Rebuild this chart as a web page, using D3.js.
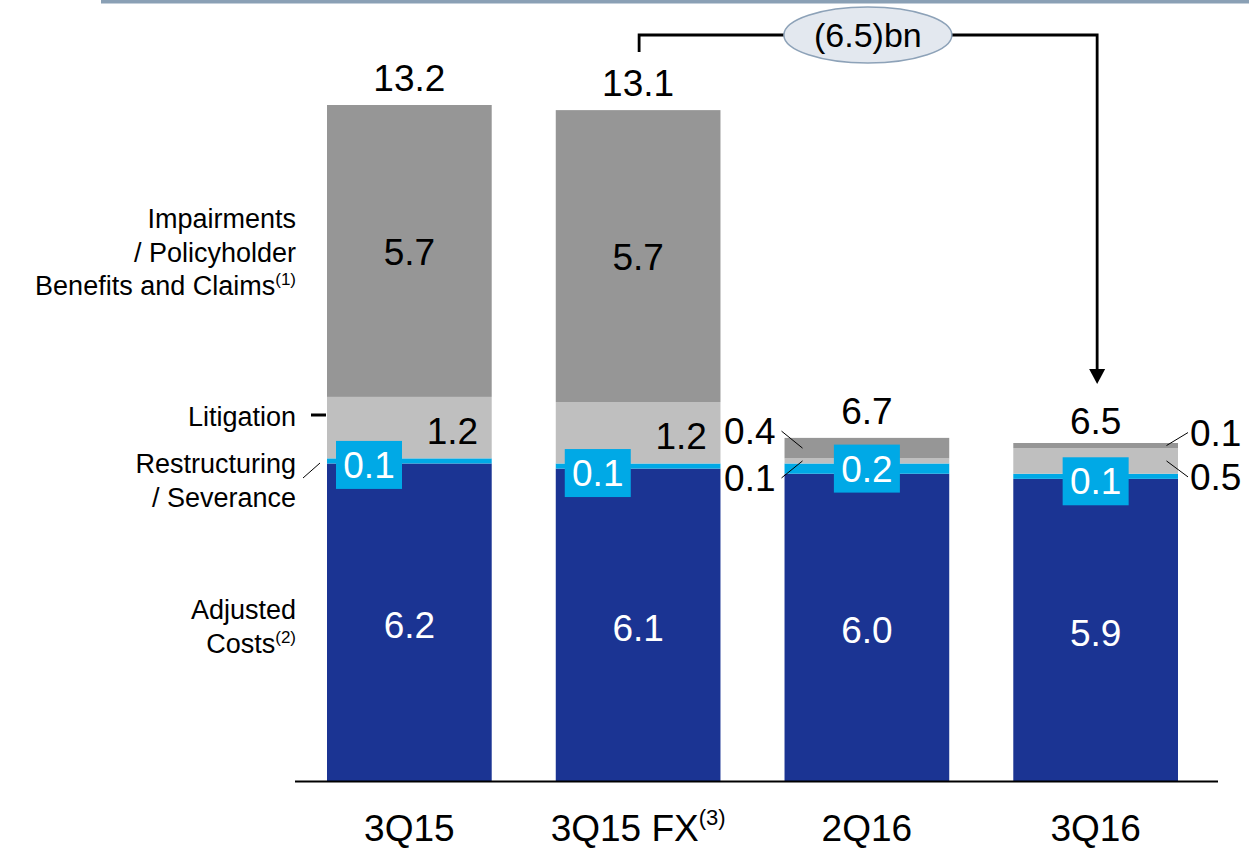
<!DOCTYPE html>
<html>
<head>
<meta charset="utf-8">
<script src="https://cdn.jsdelivr.net/npm/d3@7"></script>
<style>
  html, body { margin: 0; padding: 0; background: #fff; }
  svg { display: block; font-family: "Liberation Sans", Arial, sans-serif; }
</style>
</head>
<body>
<svg id="chart" width="1249" height="850"></svg>
<script>
// ---- Data ----
const categories = ["3Q15", "3Q15 FX", "2Q16", "3Q16"];
const categorySup = ["", "(3)", "", ""];
const adjustedCosts = [6.2, 6.1, 6.0, 5.9];
const restructuring = [0.1, 0.1, 0.2, 0.1];
const litigation = [1.2, 1.2, 0.1, 0.5];
const impairments = [5.7, 5.7, 0.4, 0.1];
const totals = [13.2, 13.1, 6.7, 6.5];
const changeLabel = "(6.5)bn";

// ---- Setup ----
const svg = d3.select("#chart");
const colors = ["#1b3493", "#00a9e6", "#bfbfbf", "#969696"];
const seriesVals = [adjustedCosts, restructuring, litigation, impairments];
const font = 37;

const x = d3.scaleBand().domain(categories).range([327, 1178]).paddingInner(0.28).paddingOuter(0);
const y = d3.scaleLinear().domain([0, 13.2]).range([781, 105]);
const bw = x.bandwidth();
const cx = c => x(c) + bw / 2;

// top rule
svg.append("rect").attr("x", 101).attr("y", 0).attr("width", 1148).attr("height", 3.5).attr("fill", "#8aa0b5");

// stacked data
const rows = categories.map((c, i) => {
  let acc = 0;
  return seriesVals.map((s, k) => {
    const y0 = acc; acc += s[i];
    return { cat: c, i, k, v: s[i], y0, y1: acc };
  });
});

const g = svg.append("g");
rows.forEach(segs => {
  segs.forEach(d => {
    g.append("rect")
      .attr("x", x(d.cat))
      .attr("y", y(d.y1))
      .attr("width", bw)
      .attr("height", y(d.y0) - y(d.y1))
      .attr("fill", colors[d.k]);
  });
});

// axis baseline
svg.append("line").attr("x1", 295).attr("x2", 1218).attr("y1", y(0) + 0.5).attr("y2", y(0) + 0.5)
  .attr("stroke", "#000").attr("stroke-width", 2);

// totals
svg.selectAll(".total").data(categories).enter().append("text")
  .attr("x", d => cx(d)).attr("y", (d, i) => y(totals[i]) - 14)
  .attr("text-anchor", "middle").attr("font-size", font).attr("fill", "#000")
  .text((d, i) => totals[i].toFixed(1));

// adjusted costs labels (white, centered)
rows.forEach(segs => {
  const d = segs[0];
  svg.append("text").attr("x", cx(d.cat)).attr("y", (y(d.y0) + y(d.y1)) / 2 + 16)
    .attr("text-anchor", "middle").attr("font-size", font).attr("fill", "#fff")
    .text(d.v.toFixed(1));
});

// restructuring labels in light-blue boxes
const boxShift = [4, 7, 0, 5];
rows.forEach((segs, i) => {
  const d = segs[1];
  const mid = (y(d.y0) + y(d.y1)) / 2;
  const bx = i < 2 ? x(d.cat) + 9 : cx(d.cat) - 33;
  const by = mid + boxShift[i];
  svg.append("rect").attr("x", bx).attr("y", by - 24).attr("width", 66).attr("height", 48).attr("fill", colors[1]);
  svg.append("text").attr("x", bx + 33).attr("y", by + 13)
    .attr("text-anchor", "middle").attr("font-size", font).attr("fill", "#fff")
    .text(d.v.toFixed(1));
});

// litigation & impairments labels
rows.forEach((segs, i) => {
  const lit = segs[2], imp = segs[3];
  if (i < 2) {
    const lm = (y(lit.y0) + y(lit.y1)) / 2;
    svg.append("text").attr("x", cx(lit.cat) + 43).attr("y", lm + 16)
      .attr("text-anchor", "middle").attr("font-size", font).attr("fill", "#000")
      .text(lit.v.toFixed(1));
    const im = (y(imp.y0) + y(imp.y1)) / 2;
    svg.append("text").attr("x", cx(imp.cat)).attr("y", im + 14)
      .attr("text-anchor", "middle").attr("font-size", font).attr("fill", "#000")
      .text(imp.v.toFixed(1));
  } else {
    const left = i === 2;
    const edgeIn = left ? x(lit.cat) + 18 : x(lit.cat) + bw - 11.5;
    const edgeOut = left ? x(lit.cat) - 3 : x(lit.cat) + bw + 10;
    const tx = left ? edgeOut - 6 : edgeOut + 2;
    const anchor = left ? "end" : "start";
    const impMid = (y(imp.y0) + y(imp.y1)) / 2;
    const litMid = (y(lit.y0) + y(lit.y1)) / 2;
    const impTextY = impMid - (left ? 17 : 13);
    const litTextY = litMid + (left ? 17 : 16);
    svg.append("line").attr("x1", edgeIn).attr("y1", impMid).attr("x2", edgeOut).attr("y2", impTextY)
      .attr("stroke", "#000").attr("stroke-width", 1);
    svg.append("line").attr("x1", edgeIn).attr("y1", litMid).attr("x2", edgeOut).attr("y2", litTextY)
      .attr("stroke", "#000").attr("stroke-width", 1);
    svg.append("text").attr("x", tx).attr("y", impTextY + 13)
      .attr("text-anchor", anchor).attr("font-size", font).attr("fill", "#000").text(imp.v.toFixed(1));
    svg.append("text").attr("x", tx).attr("y", litTextY + 13)
      .attr("text-anchor", anchor).attr("font-size", font).attr("fill", "#000").text(lit.v.toFixed(1));
  }
});

// category labels
categories.forEach((c, i) => {
  const t = svg.append("text").attr("x", cx(c)).attr("y", 841)
    .attr("text-anchor", "middle").attr("font-size", 37).attr("fill", "#000");
  t.append("tspan").text(c);
  if (categorySup[i]) {
    t.append("tspan").attr("font-size", 22).attr("dy", -16).text(categorySup[i]);
  }
});

// left series labels
function leftLabel(lines, baseY, sup) {
  const t = svg.append("text").attr("text-anchor", "end").attr("font-size", 27).attr("fill", "#000");
  lines.forEach((ln, j) => {
    t.append("tspan").attr("x", 296).attr("y", baseY + j * 33.5).text(ln);
  });
  if (sup) {
    t.append("tspan").attr("font-size", 17).attr("dy", -10).text(sup);
  }
}
leftLabel(["Impairments", "/ Policyholder", "Benefits and Claims"], 228, "(1)");
leftLabel(["Litigation"], 426, null);
leftLabel(["Restructuring", "/ Severance"], 473, null);
leftLabel(["Adjusted", "Costs"], 619, "(2)");

// marker lines for left labels
svg.append("line").attr("x1", 311).attr("x2", 326).attr("y1", 415).attr("y2", 415)
  .attr("stroke", "#000").attr("stroke-width", 3);
svg.append("line").attr("x1", 303).attr("y1", 478).attr("x2", 320).attr("y2", 463)
  .attr("stroke", "#000").attr("stroke-width", 1);

// bracket with arrow
const bY = 35;
const bx1 = cx(categories[1]) + 1, bx2 = cx(categories[3]) + 1.5;
const arrowTip = 384;
svg.append("path")
  .attr("d", `M${bx1},52 L${bx1},${bY} L${bx2},${bY} L${bx2},${arrowTip - 14}`)
  .attr("fill", "none").attr("stroke", "#000").attr("stroke-width", 2.8);
svg.append("path")
  .attr("d", `M${bx2 - 8},${arrowTip - 15} L${bx2 + 8},${arrowTip - 15} L${bx2},${arrowTip} Z`)
  .attr("fill", "#000");
svg.append("ellipse").attr("cx", cx(categories[2]) + 1).attr("cy", bY)
  .attr("rx", 84).attr("ry", 28)
  .attr("fill", "#e3e8ef").attr("stroke", "#8da2b8").attr("stroke-width", 1.5);
svg.append("text").attr("x", cx(categories[2]) + 1).attr("y", bY + 12)
  .attr("text-anchor", "middle").attr("font-size", 34).attr("fill", "#000").text(changeLabel);
</script>
</body>
</html>
